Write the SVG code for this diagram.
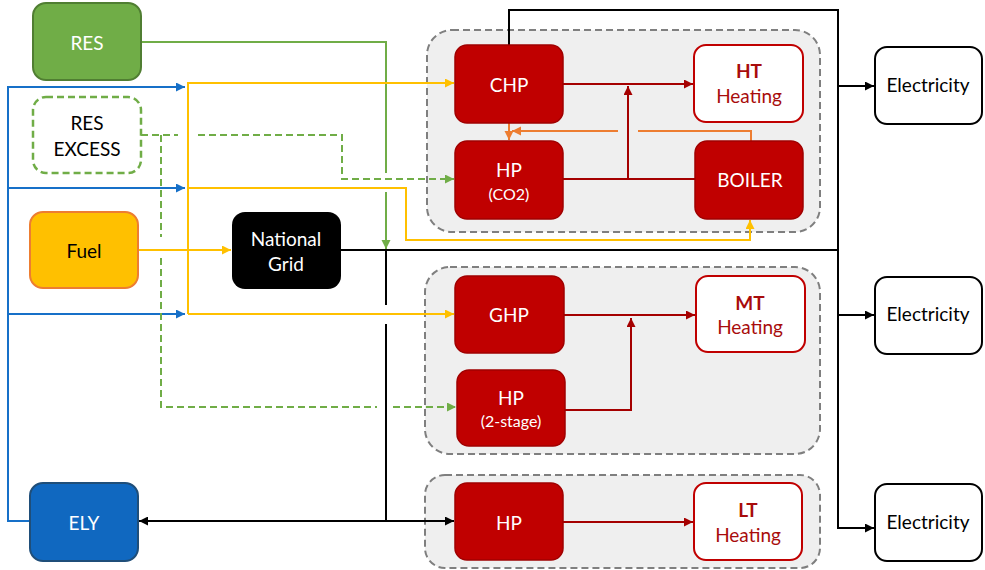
<svg xmlns="http://www.w3.org/2000/svg" width="985" height="570" viewBox="0 0 985 570">
<defs>
<style>
text{font-family:Lato,"Open Sans","Liberation Sans",sans-serif;font-size:19px;text-anchor:middle}
.w{fill:#fff}
.k{fill:#000}
.dr{fill:#a80c0c}
.sm{font-size:16px}
.b{font-weight:bold}
.grp{fill:#efefef;stroke:#7f7f7f;stroke-width:2;stroke-dasharray:7 4}
.red{fill:#c00000;stroke:#a00000;stroke-width:1.5}
.heat{fill:#fff;stroke:#c00000;stroke-width:2}
.elec{fill:#fff;stroke:#000;stroke-width:2}
.c{fill:none;stroke-width:2}
.cb{stroke:#000}
.cg{stroke:#70ad47}
.cgd{stroke:#70ad47;stroke-dasharray:7 4}
.cy{stroke:#ffc000}
.cu{stroke:#1670c8}
.cr{stroke:#a50000}
.co{stroke:#ed7d31}
</style>
<marker id="ak" markerUnits="userSpaceOnUse" markerWidth="10" markerHeight="10" refX="9" refY="4.5" orient="auto"><path d="M0,0 L9,4.5 L0,9 z" fill="#000"/></marker>
<marker id="aks" markerUnits="userSpaceOnUse" markerWidth="10" markerHeight="10" refX="0" refY="4.5" orient="auto"><path d="M9,0 L0,4.5 L9,9 z" fill="#000"/></marker>
<marker id="ag" markerUnits="userSpaceOnUse" markerWidth="10" markerHeight="10" refX="9" refY="4.5" orient="auto"><path d="M0,0 L9,4.5 L0,9 z" fill="#70ad47"/></marker>
<marker id="ay" markerUnits="userSpaceOnUse" markerWidth="10" markerHeight="10" refX="9" refY="4.5" orient="auto"><path d="M0,0 L9,4.5 L0,9 z" fill="#ffc000"/></marker>
<marker id="au" markerUnits="userSpaceOnUse" markerWidth="10" markerHeight="10" refX="9" refY="4.5" orient="auto"><path d="M0,0 L9,4.5 L0,9 z" fill="#1670c8"/></marker>
<marker id="ar" markerUnits="userSpaceOnUse" markerWidth="10" markerHeight="10" refX="9" refY="4.5" orient="auto"><path d="M0,0 L9,4.5 L0,9 z" fill="#a50000"/></marker>
<marker id="ao" markerUnits="userSpaceOnUse" markerWidth="10" markerHeight="10" refX="9" refY="4.5" orient="auto"><path d="M0,0 L9,4.5 L0,9 z" fill="#ed7d31"/></marker>
</defs>

<g id="groups">
<rect id="group-ht" class="grp" x="427" y="30" width="393" height="202" rx="25"/>
<rect id="group-mt" class="grp" x="425" y="267" width="395" height="187" rx="25"/>
<rect id="group-lt" class="grp" x="425" y="475" width="395" height="93" rx="20"/>
</g>

<g id="connectors">
<path class="c cg" d="M141,42 H386 V173"/>
<path class="c cg" d="M386,192 V249" marker-end="url(#ag)"/>
<path class="c cy" d="M138,250 H231" marker-end="url(#ay)"/>
<path class="c cb" d="M341,250 H838"/>
<path class="c cb" d="M386,250 V305"/>
<path class="c cb" d="M386,324 V521"/>
<path class="c cb" d="M139,521 H454" marker-start="url(#aks)" marker-end="url(#ak)"/>
<path class="c cb" d="M509,45 V10 H838 V528 H874" marker-end="url(#ak)"/>
<path class="c cb" d="M838,86 H874" marker-end="url(#ak)"/>
<path class="c cb" d="M838,315 H874" marker-end="url(#ak)"/>
<path class="c cu" d="M30,521 H8 V87 H185" marker-end="url(#au)"/>
<path class="c cu" d="M8,188 H185" marker-end="url(#au)"/>
<path class="c cu" d="M8,314 H185" marker-end="url(#au)"/>
<path class="c cy" d="M188,314 V83 H454" marker-end="url(#ay)"/>
<path class="c cy" d="M188,188 H406 V240 H750 V220" marker-end="url(#ay)"/>
<path class="c cy" d="M188,314 H454" marker-end="url(#ay)"/>
<path class="c cgd" d="M141,135 H178"/>
<path class="c cgd" d="M198,135 H342 V179 H454" marker-end="url(#ag)"/>
<path class="c cgd" d="M161,135 V237"/>
<path class="c cgd" d="M161,258 V407 H377"/>
<path class="c cgd" d="M393,407 H456" marker-end="url(#ag)"/>
<path class="c cr" d="M563,84 H693" marker-end="url(#ar)"/>
<path class="c cr" d="M563,179 H695"/>
<path class="c cr" d="M628,179 V86" marker-end="url(#ar)"/>
<path class="c cr" d="M564,315 H695" marker-end="url(#ar)"/>
<path class="c cr" d="M565,410 H631 V318" marker-end="url(#ar)"/>
<path class="c cr" d="M563,522 H693" marker-end="url(#ar)"/>
<path class="c co" d="M751,141 V131 H638"/>
<path class="c co" d="M618,131 H512" marker-end="url(#ao)"/>
<path class="c co" d="M509,123 V140" marker-end="url(#ao)"/>
</g>

<g id="res"><rect x="33" y="3" width="108" height="77" rx="13" fill="#70ad47" stroke="#507e32" stroke-width="2"/><text class="w" x="87" y="50">RES</text></g>
<g id="res-excess"><rect x="33" y="97" width="108" height="76" rx="13" fill="#fff" stroke="#70ad47" stroke-width="2.5" stroke-dasharray="7 4"/><text class="k" x="87" y="130">RES</text><text class="k" x="87" y="156">EXCESS</text></g>
<g id="fuel"><rect x="30" y="212" width="108" height="76" rx="13" fill="#ffc000" stroke="#ed7d31" stroke-width="2"/><text class="k" x="84" y="258">Fuel</text></g>
<g id="national-grid"><rect x="232" y="212" width="109" height="77" rx="13" fill="#000"/><text class="w" x="286" y="246">National</text><text class="w" x="286" y="271">Grid</text></g>
<g id="ely"><rect x="30" y="483" width="108" height="78" rx="13" fill="#1068c0" stroke="#1f4e79" stroke-width="2"/><text class="w" x="84" y="530">ELY</text></g>

<g id="chp"><rect class="red" x="455" y="45" width="108" height="78" rx="12"/><text class="w" x="509" y="92">CHP</text></g>
<g id="hp-co2"><rect class="red" x="455" y="141" width="108" height="78" rx="12"/><text class="w" x="509" y="177">HP</text><text class="w sm" x="509" y="200">(CO2)</text></g>
<g id="ht-heating"><rect class="heat" x="694" y="45" width="109" height="77" rx="12"/><text class="dr b" x="749" y="78">HT</text><text class="dr" x="749" y="103">Heating</text></g>
<g id="boiler"><rect class="red" x="695" y="141" width="108" height="78" rx="12"/><text class="w" x="750" y="187">BOILER</text></g>

<g id="ghp"><rect class="red" x="455" y="276" width="109" height="77" rx="12"/><text class="w" x="509" y="322">GHP</text></g>
<g id="hp-2stage"><rect class="red" x="457" y="370" width="108" height="76" rx="12"/><text class="w" x="511" y="405">HP</text><text class="w sm" x="511" y="427">(2-stage)</text></g>
<g id="mt-heating"><rect class="heat" x="696" y="276" width="109" height="76" rx="12"/><text class="dr b" x="750" y="310">MT</text><text class="dr" x="750" y="334">Heating</text></g>

<g id="hp-lt"><rect class="red" x="455" y="483" width="108" height="77" rx="12"/><text class="w" x="509" y="530">HP</text></g>
<g id="lt-heating"><rect class="heat" x="694" y="483" width="108" height="77" rx="12"/><text class="dr b" x="748" y="517">LT</text><text class="dr" x="748" y="542">Heating</text></g>

<g id="electricity-1"><rect class="elec" x="875" y="47" width="107" height="77" rx="12"/><text class="k" x="928" y="92">Electricity</text></g>
<g id="electricity-2"><rect class="elec" x="875" y="277" width="107" height="77" rx="12"/><text class="k" x="928" y="321">Electricity</text></g>
<g id="electricity-3"><rect class="elec" x="875" y="484" width="107" height="77" rx="12"/><text class="k" x="928" y="529">Electricity</text></g>
</svg>
